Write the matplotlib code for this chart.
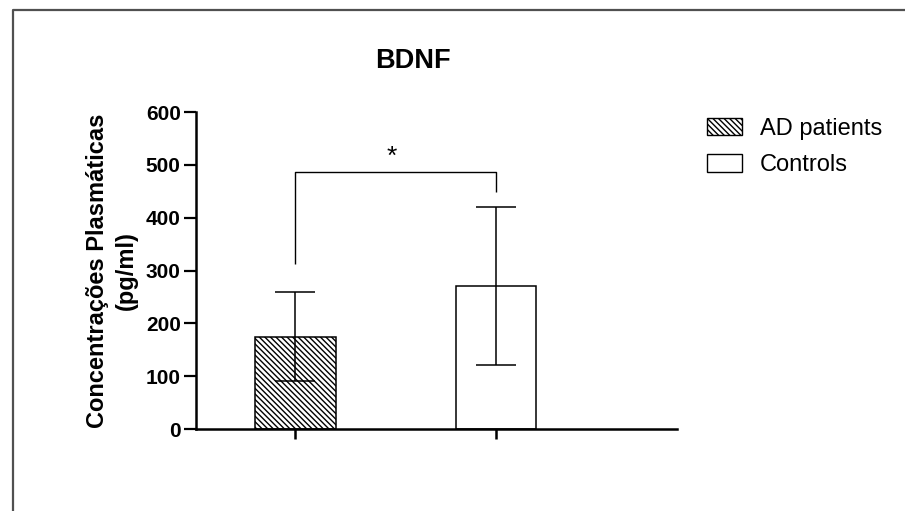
import matplotlib
matplotlib.use("Agg")
import matplotlib.pyplot as plt
from matplotlib.lines import Line2D
from matplotlib.patches import Patch

# ---- data ----
groups = ["AD patients", "Controls"]
means = [175, 271]
sds = [84, 149]
hatches = ["\\\\\\\\\\\\", ""]
yticks = [0, 100, 200, 300, 400, 500, 600]
title = "BDNF"
ylabel = "Concentrações Plasmáticas\n(pg/ml)"
bracket_y = 487
bracket_left_bottom = 312
bracket_right_bottom = 449
star_text = "*"

plt.rcParams['font.family'] = ['Liberation Sans', 'DejaVu Sans']
plt.rcParams['hatch.linewidth'] = 1.0
plt.rcParams['hatch.color'] = 'black'

W, H = 905, 511
fig = plt.figure(figsize=(W / 100, H / 100), dpi=100)
ax = fig.add_axes([196 / W, 1 - 429 / H, (677 - 196) / W, (429 - 112) / H])

xpos = list(range(len(groups)))
bars = ax.bar(xpos, means, width=0.40, color='white', edgecolor='black',
              linewidth=1.1, zorder=2)
for b, h in zip(bars, hatches):
    b.set_hatch(h)
ax.errorbar(xpos, means, yerr=sds, fmt='none', ecolor='black', elinewidth=1.1,
            capsize=14.5, capthick=1.1, zorder=3)

# significance bracket
ax.plot([xpos[0], xpos[0], xpos[1], xpos[1]],
        [bracket_left_bottom, bracket_y, bracket_y, bracket_right_bottom],
        color='black', lw=1.0, zorder=3, solid_capstyle='butt')
ax.text((xpos[0] + xpos[1]) / 2 - 0.02, 516, star_text, ha='center', va='center',
        fontsize=19, color='black')

ax.set_xlim(-0.496, 1.903)
ax.set_ylim(0, 600)
ax.set_yticks(yticks)
ax.set_yticklabels([str(t) for t in yticks], fontsize=15, fontweight='bold')
ax.set_xticks(xpos)
ax.set_xticklabels([])
ax.tick_params(axis='y', length=9, width=1.6, pad=2)
ax.tick_params(axis='x', length=7, width=1.8)
for s in ['top', 'right']:
    ax.spines[s].set_visible(False)
for s in ['left', 'bottom']:
    ax.spines[s].set_linewidth(1.8)

ax.set_ylabel(ylabel, fontsize=17, fontweight='bold', labelpad=6,
              multialignment='center', linespacing=1.3)

fig.text(413 / W, 1 - 61 / H, title, ha='center', va='center',
         fontsize=19.5, fontweight='bold')

handles = [Patch(facecolor='white', edgecolor='black', hatch=h, linewidth=1.0)
           for h in ["\\\\\\\\\\\\", ""]]
fig.legend(handles, groups, loc='upper left',
           bbox_to_anchor=(707 / W, 1 - 118 / H), frameon=False,
           fontsize=17, handlelength=1.5, handleheight=0.75,
           handletextpad=0.75, labelspacing=0.6, borderpad=0,
           borderaxespad=0)

# outer frame (top and left edges)
fig.add_artist(Line2D([13 / W, 13 / W, 1.0], [0.0, 1 - 10 / H, 1 - 10 / H],
                      transform=fig.transFigure, color='#505050', lw=1.6))

fig.savefig("out.png", dpi=100, facecolor='white')
